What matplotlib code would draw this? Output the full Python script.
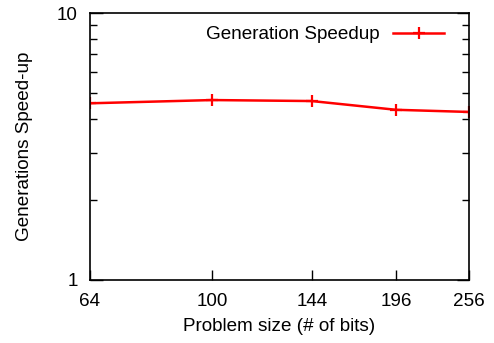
import matplotlib
matplotlib.use("Agg")
import matplotlib.pyplot as plt
from matplotlib.ticker import FixedLocator, NullFormatter, NullLocator

plt.rcParams["font.family"] = ["Liberation Sans", "DejaVu Sans"]
plt.rcParams["font.size"] = 13.6

bits = [64, 100, 144, 196, 256]
speedup = [4.59, 4.72, 4.68, 4.34, 4.26]
tick_labels = ["64", "100", "144", "196", "256"]

fig = plt.figure(figsize=(4.94, 3.43), dpi=100)
ax = fig.add_axes([90 / 494, 63 / 343, 379 / 494, 267 / 343])

ax.plot(bits, speedup, color="#ff0000", lw=1.8, marker="+", ms=8, mew=1.6,
        label="Generation Speedup")

ax.set_xscale("log")
ax.set_yscale("log")
ax.set_xlim(64, 256)
ax.set_ylim(1, 10)

ax.xaxis.set_major_locator(FixedLocator(bits))
ax.xaxis.set_minor_locator(NullLocator())
ax.set_xticklabels(tick_labels)
ax.yaxis.set_major_locator(FixedLocator([1, 10]))
ax.set_yticklabels(["1", "10"])
ax.yaxis.set_minor_locator(FixedLocator(range(2, 10)))
ax.yaxis.set_minor_formatter(NullFormatter())

ax.tick_params(axis="x", which="both", direction="in", top=False, length=7, width=1, pad=9)
ax.tick_params(axis="y", which="major", direction="in", right=True, length=9, width=1, pad=9)
ax.tick_params(axis="y", which="minor", direction="in", right=True, length=5, width=1)
for s in ax.spines.values():
    s.set_linewidth(1.2)

ax.set_xlabel("Problem size (# of bits)", labelpad=6)
ax.set_ylabel("Generations Speed-up", labelpad=17)

leg = ax.legend(loc="upper right", frameon=False, markerfirst=False,
                handlelength=2.7, handletextpad=0.75, borderaxespad=0.3,
                bbox_to_anchor=(0.97, 1.0))

fig.savefig("out.png", dpi=100)
